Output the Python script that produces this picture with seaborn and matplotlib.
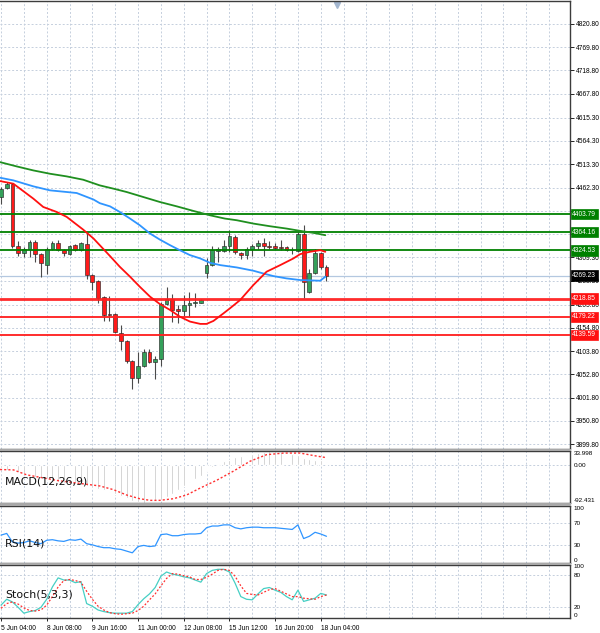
import matplotlib
matplotlib.use("Agg")
import matplotlib.pyplot as plt
import matplotlib.transforms as mtransforms
from matplotlib.patches import Rectangle
import seaborn as sns

# ---------------- data ----------------
opens = [4441.6, 4461.2, 4470.7, 4333.8, 4317.8, 4328.0, 4341.9, 4315.7, 4292.4, 4328.7,
         4341.1, 4325.1, 4316.4, 4336.0, 4325.0, 4338.2, 4270.5, 4258.2, 4221.7, 4185.4,
         4185.4, 4144.6, 4127.0, 4081.2, 4044.9, 4070.3, 4103.0, 4079.0, 4086.5, 4207.4,
         4217.4, 4195.6, 4192.7, 4205.0, 4210.0, 4210.0, 4274.2, 4292.4, 4323.7, 4323.7,
         4333.8, 4354.3, 4319.3, 4313.5, 4328.7, 4333.8, 4339.7, 4333.8, 4333.8, 4331.7,
         4331.7, 4325.1, 4323.7, 4361.5, 4234.2, 4275.7, 4317.8, 4287.3]
highs = [4463.4, 4474.3, 4473.0, 4345.5, 4332.4, 4347.0, 4348.4, 4318.0, 4331.0, 4345.5,
         4347.0, 4327.3, 4336.0, 4338.2, 4342.6, 4365.0, 4272.7, 4259.6, 4224.6, 4224.0,
         4187.0, 4161.3, 4128.5, 4083.4, 4103.0, 4108.1, 4108.1, 4092.3, 4212.3, 4245.0,
         4229.0, 4205.0, 4226.9, 4234.0, 4231.9, 4218.0, 4307.0, 4333.8, 4332.4, 4347.0,
         4368.8, 4357.2, 4321.5, 4331.0, 4337.5, 4348.4, 4352.8, 4345.5, 4339.7, 4348.4,
         4333.8, 4332.4, 4365.2, 4379.7, 4282.9, 4326.6, 4321.5, 4292.4]
lows = [4427.0, 4459.8, 4330.9, 4312.0, 4310.5, 4309.0, 4299.0, 4266.9, 4272.7, 4325.0,
        4323.6, 4312.0, 4313.5, 4322.9, 4323.0, 4261.8, 4237.8, 4208.6, 4170.8, 4170.8,
        4144.5, 4106.7, 4077.6, 4020.8, 4034.0, 4069.0, 4077.6, 4042.3, 4070.3, 4205.0,
        4168.6, 4166.4, 4181.0, 4179.5, 4201.3, 4208.6, 4263.3, 4290.2, 4299.6, 4321.5,
        4321.5, 4316.4, 4304.8, 4304.8, 4312.0, 4328.7, 4312.0, 4326.6, 4328.0, 4325.1,
        4323.7, 4316.4, 4321.5, 4219.6, 4232.0, 4272.7, 4284.4, 4258.0]
closes = [4459.8, 4470.7, 4333.8, 4317.8, 4326.6, 4342.6, 4316.4, 4297.5, 4328.7, 4339.7,
          4325.1, 4317.8, 4333.8, 4325.0, 4339.7, 4270.5, 4256.0, 4219.6, 4183.3, 4183.3,
          4146.7, 4127.0, 4081.2, 4044.9, 4070.3, 4103.0, 4079.0, 4086.5, 4207.4, 4217.4,
          4194.0, 4192.7, 4205.0, 4210.0, 4212.3, 4216.0, 4292.4, 4325.1, 4326.6, 4334.6,
          4355.7, 4321.5, 4313.5, 4328.7, 4334.6, 4339.7, 4333.8, 4332.4, 4329.5, 4330.2,
          4325.1, 4324.4, 4361.5, 4256.0, 4275.7, 4317.8, 4287.3, 4269.23]

time_labels = ["5 Jun 04:00", "8 Jun 08:00", "9 Jun 16:00", "11 Jun 00:00",
               "12 Jun 08:00", "15 Jun 12:00", "16 Jun 20:00", "18 Jun 04:00"]
time_label_bars = [0, 8, 16, 24, 32, 40, 48, 56]

price_ticks = [4820.80, 4769.80, 4718.80, 4667.80, 4615.30, 4564.30, 4513.30, 4462.30,
               4411.30, 4360.30, 4309.30, 4258.30, 4205.80, 4154.80, 4103.80, 4052.80,
               4001.80, 3950.80, 3899.80]
# tick values whose labels are hidden behind the level boxes in the reference
covered_ticks = [4411.30, 4360.30]

resistance_levels = [4403.79, 4364.16, 4324.53]
support_levels = [4218.85, 4179.22, 4139.59]
last_price = 4269.23

ma_fast_x = [-0.18, 2.16, 3.33, 5.66, 7.4, 9.75, 11.5, 14.4, 16.2, 19.1, 20.8, 22.6, 24.3,
             26.1, 27.8, 29.6, 31.3, 33.1, 34.9, 36.0, 37.2, 38.9, 40.1, 41.9, 44.2, 46.5,
             48.9, 51.2, 52.4, 54.1, 55.9, 56.8]
ma_fast_y = [4476.5, 4470.7, 4459.8, 4438.0, 4419.7, 4408.8, 4398.0, 4370.0, 4350.6, 4312.0,
             4288.7, 4266.9, 4245.0, 4223.2, 4207.2, 4194.1, 4179.5, 4168.6, 4163.5, 4163.5,
             4170.0, 4186.0, 4197.7, 4216.0, 4248.7, 4277.8, 4292.3, 4306.9, 4316.4, 4321.5,
             4325.1, 4321.5]

ma_mid_x = [-0.18, 2.16, 5.66, 8.58, 11.5, 13.25, 16.2, 17.3, 19.1, 20.8, 22.6, 24.3, 26.1,
            27.8, 29.6, 31.3, 33.1, 34.9, 36.6, 38.4, 41.3, 44.2, 45.9, 47.7, 50.0, 52.4,
            55.9, 56.8]
ma_mid_y = [4483.8, 4478.0, 4464.9, 4456.1, 4452.5, 4450.3, 4436.0, 4428.0, 4421.0, 4408.8,
            4394.3, 4379.7, 4361.5, 4348.4, 4336.0, 4325.1, 4314.2, 4306.9, 4297.4, 4292.3,
            4287.2, 4280.0, 4274.1, 4268.3, 4263.2, 4259.6, 4258.1, 4266.9]

ma_slow_x = [-0.18, 2.74, 5.66, 8.58, 11.5, 14.4, 17.3, 19.7, 22.0, 24.9, 27.8, 30.8, 33.7,
             36.6, 39.2, 41.3, 44.2, 47.1, 50.0, 52.4, 54.7, 56.8]
ma_slow_y = [4518.0, 4508.6, 4499.8, 4492.5, 4486.7, 4479.4, 4467.0, 4459.8, 4452.5, 4441.6,
             4430.7, 4421.0, 4411.0, 4401.5, 4394.3, 4390.6, 4383.3, 4377.5, 4372.4, 4367.3,
             4363.0, 4357.9]

macd_hist = [-8, -11, -14, -17, -21, -25, -29, -32, -35, -38,
             -41, -43, -45, -47, -49, -52, -55, -58, -62, -66,
             -71, -76, -81, -87, -91, -92.431, -91, -88, -84, -77,
             -70, -61, -52, -42, -35, -28, -15, -4, 3, 9,
             13, 19, 23, 25, 27, 30, 32, 33.998, 33, 31,
             29, 27, 24, 17, 14, 13, 11, 8]
macd_signal_x = [-0.17, 2.2, 4.5, 10.0, 15.6, 17.3, 19.7, 22.0, 24.3, 26.1, 27.8, 30.2, 32.5,
                 34.9, 37.8, 40.7, 43.6, 46.5, 49.5, 52.4, 54.7, 56.9]
macd_signal_y = [-11, -12, -24, -38, -48, -51, -60, -73, -82, -86, -86, -82, -73,
                 -56, -37, -15, 9, 25, 29, 29, 23, 18]

rsi_values = [48, 51, 36, 34, 35, 38, 35, 33, 39, 40,
              38, 37, 40, 39, 41, 33, 31, 28, 26, 26,
              24, 23, 20, 17, 28, 30, 28, 29, 49, 50,
              47, 47, 49, 50, 50, 51, 61, 64, 64, 66,
              66, 61, 59, 61, 62, 62, 61, 61, 61, 60,
              59, 58, 66, 42, 46, 53, 50, 46]

stoch_k = [24, 35, 30, 20, 9, 12, 14, 20, 35, 58,
           75, 71, 71, 66, 68, 27, 22, 15, 12, 10,
           9, 9, 9, 12, 25, 36, 45, 57, 78, 86,
           82, 80, 77, 75, 71, 67, 83, 89, 91, 91,
           86, 65, 40, 35, 34, 45, 55, 57, 52, 48,
           40, 34, 52, 31, 34, 37, 46, 43]
stoch_d = [18, 27, 30, 26, 19, 14, 13, 15, 24, 40,
           58, 70, 72, 70, 67, 50, 35, 22, 15, 10,
           8, 7, 8, 9, 14, 22, 34, 45, 60, 74,
           83, 82, 79, 77, 72, 72, 76, 82, 89, 91,
           89, 78, 60, 46, 44, 43, 48, 53, 55, 50,
           45, 40, 40, 37, 36, 35, 40, 43]

# ---------------- style ----------------
sns.set_style("white")
plt.rcParams['font.family'] = ['DejaVu Sans']

W, H = 600.0, 633.0
PLOT_R = 570.0
GRID = '#c5cfdd'
SPINE = '#3c3c3c'
TICKFONT = 'Liberation Sans'
TICKSIZE = 4.8

fig = plt.figure(figsize=(6.0, 6.33), dpi=100)
fig.patch.set_facecolor('white')


def rect(top, bot):
    return [0.0, (H - bot) / H, PLOT_R / W, (bot - top) / H]


ax_p = fig.add_axes(rect(1, 448.5))
ax_m = fig.add_axes(rect(451, 503))
ax_r = fig.add_axes(rect(505.5, 562.5))
ax_s = fig.add_axes(rect(564.5, 618))
axes = [ax_p, ax_m, ax_r, ax_s]

for (t, b) in [(448.5, 451), (503, 505.5), (562.5, 564.5)]:
    fig.add_artist(Rectangle((0, (H - b) / H), PLOT_R / W + 0.002, (b - t) / H,
                             transform=fig.transFigure, fc='#a8a8a8', ec='none'))

n = len(closes)
bars = list(range(n))
x_left = -1.0 / 5.71
x_right = (PLOT_R - 1.0) / 5.71

for ax in axes:
    ax.set_xlim(x_left, x_right)
    ax.set_facecolor('white')
    for side in ['top', 'bottom', 'right']:
        ax.spines[side].set_color(SPINE)
        ax.spines[side].set_linewidth(1.0)
    ax.spines['left'].set_visible(False)
    for v in range(0, 100, 4):
        ax.axvline(v, color=GRID, lw=0.7, ls=(0, (2, 2)), zorder=0)
    ax.yaxis.tick_right()
    ax.tick_params(axis='x', bottom=False, labelbottom=False)

# ---------------- main price panel ----------------
ax_p.set_ylim(3890.5, 4871.0)
for t in price_ticks:
    ax_p.axhline(t, color=GRID, lw=0.7, ls=(0, (2, 2)), zorder=0)

ax_p.axhline(last_price, color='#b4c8e0', lw=0.9, zorder=1)

# candles
ax_p.vlines(bars, lows, highs, color='#4a4a4a', lw=0.8, zorder=2)
body_bottom = [min(o, c) for o, c in zip(opens, closes)]
body_height = [max(abs(c - o), 1.6) for o, c in zip(opens, closes)]
body_color = ['#34a05a' if c >= o else '#ff1a1a' for o, c in zip(opens, closes)]
ax_p.bar(bars, body_height, bottom=body_bottom, width=0.66, color=body_color,
         edgecolor='#2a2a2a', linewidth=0.45, zorder=3)

# moving averages (seaborn)
sns.lineplot(x=ma_slow_x, y=ma_slow_y, ax=ax_p, color='#1f8f1f', lw=1.3,
             estimator=None, zorder=5)
sns.lineplot(x=ma_mid_x, y=ma_mid_y, ax=ax_p, color='#2f95ff', lw=1.3,
             estimator=None, zorder=5)
sns.lineplot(x=ma_fast_x, y=ma_fast_y, ax=ax_p, color='#ff1010', lw=1.3,
             estimator=None, zorder=5)

for lv in resistance_levels:
    ax_p.axhline(lv, color='#008000', lw=1.3, zorder=4)
for k, lv in enumerate(support_levels):
    ax_p.axhline(lv, color='#ff2020', lw=2.0 if k == 0 else 1.4, alpha=0.95, zorder=4)

ax_p.set_yticks(price_ticks)
ax_p.set_yticklabels(['' if v in covered_ticks else f"{v:.2f}" for v in price_ticks])
ax_p.tick_params(axis='y', right=True, length=3, width=0.6, pad=1.5,
                 labelsize=TICKSIZE, colors='black')
for lbl in ax_p.get_yticklabels():
    lbl.set_fontfamily(TICKFONT)
ax_p.set_xlabel('')
ax_p.set_ylabel('')

blend = mtransforms.blended_transform_factory(ax_p.transAxes, ax_p.transData)
level_boxes = ([(v, '#008000') for v in resistance_levels] + [(last_price, '#000000')] +
               [(v, '#ff1010') for v in support_levels])
for lv, col in level_boxes:
    ax_p.text(1.004, lv, f"{lv:.2f}", transform=blend, ha='left', va='center',
              fontsize=TICKSIZE, color='white', fontfamily=TICKFONT, zorder=10,
              bbox=dict(boxstyle='square,pad=0.25', fc=col, ec=col, lw=0.5))

ax_p.plot([58.8], [0.992], marker='v', color='#a3b6cf', ms=4.5, clip_on=False,
          transform=mtransforms.blended_transform_factory(ax_p.transData, ax_p.transAxes))

# ---------------- MACD panel ----------------
ax_m.set_ylim(-92.431, 33.998)
ax_m.axhline(0, color=GRID, lw=0.7, ls=(0, (2, 2)), zorder=0)
ax_m.bar(bars, macd_hist, width=0.32, color='#bdbdbd', zorder=2)
sns.lineplot(x=macd_signal_x, y=macd_signal_y, ax=ax_m, color='#ff3030', lw=1.0,
             linestyle=(0, (1.5, 1.5)), estimator=None, zorder=3)
ax_m.set_yticks([33.998, 0.0, -92.431])
ax_m.set_yticklabels(['33.998', '0.00', '-92.431'])
ax_m.text(5 / PLOT_R, 0.42, 'MACD(12,26,9)', transform=ax_m.transAxes, fontsize=7.9,
          color='#111111', va='center', ha='left', zorder=6)

# ---------------- RSI panel ----------------
ax_r.set_ylim(0, 100)
for lv in [70, 30]:
    ax_r.axhline(lv, color=GRID, lw=0.7, ls=(0, (2, 2)), zorder=0)
sns.lineplot(x=bars, y=rsi_values, ax=ax_r, color='#2f95ff', lw=0.9,
             estimator=None, zorder=3)
ax_r.set_yticks([100, 70, 30, 0])
ax_r.set_yticklabels(['100', '70', '30', '0'])
ax_r.text(5 / PLOT_R, 0.34, 'RSI(14)', transform=ax_r.transAxes, fontsize=7.9,
          color='#111111', va='center', ha='left', zorder=6)

# ---------------- Stochastic panel ----------------
ax_s.set_ylim(0, 100)
for lv in [80, 20]:
    ax_s.axhline(lv, color=GRID, lw=0.7, ls=(0, (2, 2)), zorder=0)
sns.lineplot(x=bars, y=stoch_k, ax=ax_s, color='#46cfc4', lw=0.9,
             estimator=None, zorder=3)
sns.lineplot(x=bars, y=stoch_d, ax=ax_s, color='#ff3030', lw=0.9,
             linestyle=(0, (1.5, 1.5)), estimator=None, zorder=3)
ax_s.set_yticks([100, 80, 20, 0])
ax_s.set_yticklabels(['100', '80', '20', '0'])
ax_s.text(5 / PLOT_R, 0.44, 'Stoch(5,3,3)', transform=ax_s.transAxes, fontsize=7.9,
          color='#111111', va='center', ha='left', zorder=6)

for ax in [ax_m, ax_r, ax_s]:
    ax.set_xlabel('')
    ax.set_ylabel('')
    ax.tick_params(axis='y', right=True, length=0, pad=2.5, labelsize=TICKSIZE - 0.2,
                   colors='black')
    lbls = ax.get_yticklabels()
    for lbl in lbls:
        lbl.set_fontfamily(TICKFONT)
    lbls[0].set_va('top')
    lbls[-1].set_va('bottom')

ax_s.tick_params(axis='x', bottom=True, labelbottom=True, length=2.5, width=0.6,
                 pad=2.5, labelsize=TICKSIZE, colors='black')
ax_s.set_xticks(time_label_bars)
ax_s.set_xticklabels(time_labels)
for lbl in ax_s.get_xticklabels():
    lbl.set_ha('left')
    lbl.set_fontfamily(TICKFONT)

fig.savefig('out.png', dpi=100, facecolor='white')
